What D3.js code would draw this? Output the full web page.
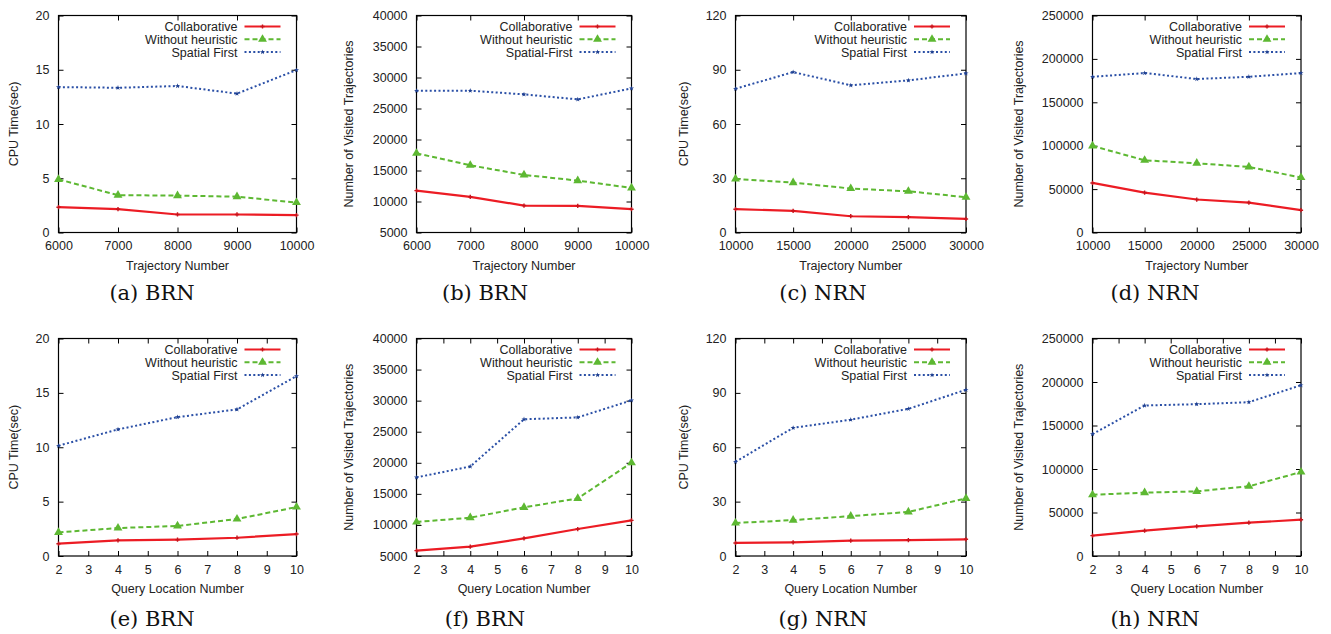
<!DOCTYPE html>
<html>
<head>
<meta charset="utf-8">
<script src="https://cdn.jsdelivr.net/npm/d3@7"></script>
<style>
  body { margin: 0; background: #fff; }
  text { font-family: "Liberation Sans", Arial, sans-serif; fill: #222; }
</style>
</head>
<body>
<div id="wrapper"></div>
<script>
// x values
const trajBRN = [6000, 7000, 8000, 9000, 10000];
const trajNRN = [10000, 15000, 20000, 25000, 30000];
const queryLoc = [2, 4, 6, 8, 10];

// series names
const seriesNames = ["Collaborative", "Without heuristic", "Spatial First"];
const seriesNamesB = ["Collaborative", "Without heuristic", "Spatial-First"];

// (a) BRN, CPU time vs trajectory number
const aCollab = [2.33, 2.15, 1.66, 1.66, 1.6];
const aWithout = [4.9, 3.44, 3.4, 3.3, 2.76];
const aSpatial = [13.4, 13.34, 13.5, 12.8, 14.97];
// (b) BRN, visited trajectories vs trajectory number
const bCollab = [11760, 10740, 9350, 9300, 8760];
const bWithout = [17780, 15840, 14290, 13370, 12190];
const bSpatial = [27870, 27870, 27280, 26470, 28240];
// (c) NRN, CPU time vs trajectory number
const cCollab = [12.9, 12.0, 9.0, 8.5, 7.5];
const cWithout = [29.6, 27.6, 24.3, 22.8, 19.5];
const cSpatial = [79.5, 88.7, 81.4, 84.1, 88.0];
// (d) NRN, visited trajectories vs trajectory number
const dCollab = [57100, 46000, 38000, 34500, 25700];
const dWithout = [99700, 83200, 79800, 75500, 63300];
const dSpatial = [179400, 183700, 176800, 179400, 183700];
// (e) BRN, CPU time vs query location number
const eCollab = [1.13, 1.44, 1.5, 1.68, 2.02];
const eWithout = [2.17, 2.57, 2.76, 3.4, 4.5];
const eSpatial = [10.14, 11.64, 12.77, 13.48, 16.54];
// (f) BRN, visited trajectories vs query location number
const fCollab = [5860, 6500, 7840, 9340, 10730];
const fWithout = [10470, 11160, 12820, 14270, 20000];
const fSpatial = [17650, 19400, 27000, 27300, 30050];
// (g) NRN, CPU time vs query location number
const gCollab = [7.2, 7.5, 8.5, 8.8, 9.2];
const gWithout = [18.2, 19.8, 22.0, 24.3, 31.8];
const gSpatial = [52.0, 70.7, 75.2, 81.2, 91.7];
// (h) NRN, visited trajectories vs query location number
const hCollab = [23400, 29100, 34100, 38300, 41700];
const hWithout = [70400, 72800, 74300, 80100, 96500];
const hSpatial = [140100, 173000, 174500, 176800, 196300];

// axis ticks
const cpuBRNTicks = [0, 5, 10, 15, 20];
const visBRNTicks = [5000, 10000, 15000, 20000, 25000, 30000, 35000, 40000];
const cpuNRNTicks = [0, 30, 60, 90, 120];
const visNRNTicks = [0, 50000, 100000, 150000, 200000, 250000];
const trajBRNTicks = [6000, 7000, 8000, 9000, 10000];
const trajNRNTicks = [10000, 15000, 20000, 25000, 30000];
const queryTicks = [2, 3, 4, 5, 6, 7, 8, 9, 10];

const cpuLabel = "CPU Time(sec)";
const visLabel = "Number of Visited Trajectories";
const trajLabel = "Trajectory Number";
const queryLabel = "Query Location Number";

const panels = [
  { cap: "(a) BRN", x: trajBRN, xt: trajBRNTicks, xl: trajLabel, yt: cpuBRNTicks, yl: cpuLabel, ys: [aCollab, aWithout, aSpatial], names: seriesNames },
  { cap: "(b) BRN", x: trajBRN, xt: trajBRNTicks, xl: trajLabel, yt: visBRNTicks, yl: visLabel, ys: [bCollab, bWithout, bSpatial], names: seriesNamesB },
  { cap: "(c) NRN", x: trajNRN, xt: trajNRNTicks, xl: trajLabel, yt: cpuNRNTicks, yl: cpuLabel, ys: [cCollab, cWithout, cSpatial], names: seriesNames },
  { cap: "(d) NRN", x: trajNRN, xt: trajNRNTicks, xl: trajLabel, yt: visNRNTicks, yl: visLabel, ys: [dCollab, dWithout, dSpatial], names: seriesNames },
  { cap: "(e) BRN", x: queryLoc, xt: queryTicks, xl: queryLabel, yt: cpuBRNTicks, yl: cpuLabel, ys: [eCollab, eWithout, eSpatial], names: seriesNames },
  { cap: "(f) BRN", x: queryLoc, xt: queryTicks, xl: queryLabel, yt: visBRNTicks, yl: visLabel, ys: [fCollab, fWithout, fSpatial], names: seriesNames },
  { cap: "(g) NRN", x: queryLoc, xt: queryTicks, xl: queryLabel, yt: cpuNRNTicks, yl: cpuLabel, ys: [gCollab, gWithout, gSpatial], names: seriesNames },
  { cap: "(h) NRN", x: queryLoc, xt: queryTicks, xl: queryLabel, yt: visNRNTicks, yl: visLabel, ys: [hCollab, hWithout, hSpatial], names: seriesNames },
];

// layout (pixels)
const cols = [
  { left: 58.5, right: 296.5, ylabX: 14, capX: 152 },
  { left: 416.5, right: 631.5, ylabX: 349, capX: 485 },
  { left: 735.5, right: 966, ylabX: 684, capX: 823 },
  { left: 1092.5, right: 1301, ylabX: 1019, capX: 1155 },
];
const rows = [
  { top: 15.5, bottom: 232.5, capY: 300 },
  { top: 338.5, bottom: 556, capY: 626 },
];

const styles = [
  { color: "#ec1c24", dash: null, marker: "dot" },
  { color: "#5db832", dash: "5,3", marker: "tri" },
  { color: "#2a4fa6", dash: "2,2.4", marker: "star" },
];

const svg = d3.select("#wrapper").append("svg")
  .attr("width", 1331)
  .attr("height", 634);

function drawMarker(g, type, color, x, y) {
  if (type === "tri") {
    g.append("path")
      .attr("d", d3.symbol().type(d3.symbolTriangle).size(34)())
      .attr("transform", `translate(${x},${y})`)
      .attr("fill", color);
  } else if (type === "dot") {
    g.append("path")
      .attr("d", d3.symbol().type(d3.symbolCross).size(10)())
      .attr("transform", `translate(${x},${y})`)
      .attr("fill", "#c8141c");
  } else {
    g.append("path")
      .attr("d", d3.symbol().type(d3.symbolStar).size(8)())
      .attr("transform", `translate(${x},${y})`)
      .attr("fill", "#1e3f90");
  }
}

panels.forEach((p, i) => {
  const col = cols[i % 4];
  const row = rows[Math.floor(i / 4)];
  const w = col.right - col.left;
  const h = row.bottom - row.top;

  const xScale = d3.scaleLinear()
    .domain(d3.extent(p.xt))
    .range([0, w]);
  const yScale = d3.scaleLinear()
    .domain(d3.extent(p.yt))
    .range([h, 0]);

  const bounds = svg.append("g")
    .attr("transform", `translate(${col.left},${row.top})`);

  // ticks inward on all four sides
  const tickLen = 5;
  const axisStyle = sel => {
    sel.select(".domain").remove();
    sel.selectAll(".tick line").attr("stroke", "#000").attr("stroke-width", 1);
  };
  const fmt = d3.format("d");

  bounds.append("g")
    .attr("transform", `translate(0,${h})`)
    .call(d3.axisBottom(xScale).tickValues(p.xt).tickSize(-tickLen).tickPadding(9).tickFormat(fmt))
    .call(axisStyle)
    .call(g => g.selectAll("text").attr("font-size", 12.5).attr("fill", "#222").attr("font-family", "Liberation Sans, Arial, sans-serif"));
  bounds.append("g")
    .call(d3.axisTop(xScale).tickValues(p.xt).tickSize(-tickLen).tickFormat(""))
    .call(axisStyle);
  bounds.append("g")
    .call(d3.axisLeft(yScale).tickValues(p.yt).tickSize(-tickLen).tickPadding(9).tickFormat(fmt))
    .call(axisStyle)
    .call(g => g.selectAll("text").attr("font-size", 12.5).attr("fill", "#222").attr("font-family", "Liberation Sans, Arial, sans-serif"));
  bounds.append("g")
    .attr("transform", `translate(${w},0)`)
    .call(d3.axisRight(yScale).tickValues(p.yt).tickSize(-tickLen).tickFormat(""))
    .call(axisStyle);

  // frame
  bounds.append("rect")
    .attr("width", w)
    .attr("height", h)
    .attr("fill", "none")
    .attr("stroke", "#000")
    .attr("stroke-width", 1.2);

  // series
  const line = d3.line()
    .x((d, j) => xScale(p.x[j]))
    .y(d => yScale(d));

  p.ys.forEach((vals, k) => {
    const st = styles[k];
    bounds.append("path")
      .attr("d", line(vals))
      .attr("fill", "none")
      .attr("stroke", st.color)
      .attr("stroke-width", k === 0 ? 2.2 : 2)
      .attr("stroke-dasharray", st.dash);
    vals.forEach((v, j) => drawMarker(bounds, st.marker, st.color, xScale(p.x[j]), yScale(v)));
  });

  // legend
  p.names.forEach((name, k) => {
    const st = styles[k];
    const ly = 11 + k * 12.8;
    bounds.append("text")
      .attr("x", w - 59)
      .attr("y", ly + 4.5)
      .attr("text-anchor", "end")
      .attr("font-size", 12.5)
      .text(name);
    bounds.append("line")
      .attr("x1", w - 52).attr("x2", w - 16)
      .attr("y1", ly).attr("y2", ly)
      .attr("stroke", st.color)
      .attr("stroke-width", k === 0 ? 2.2 : 2)
      .attr("stroke-dasharray", st.dash);
    drawMarker(bounds, st.marker, st.color, w - 34, ly);
  });

  // axis titles
  bounds.append("text")
    .attr("x", w / 2)
    .attr("y", h + 37)
    .attr("text-anchor", "middle")
    .attr("font-size", 12.5)
    .text(p.xl);

  svg.append("text")
    .attr("transform", `translate(${col.ylabX},${row.top + h / 2}) rotate(-90)`)
    .attr("text-anchor", "middle")
    .attr("dy", "0.35em")
    .attr("font-size", 12.5)
    .text(p.yl);

  // caption
  svg.append("text")
    .attr("x", col.capX)
    .attr("y", row.capY)
    .attr("text-anchor", "middle")
    .style("font-family", "'DejaVu Serif', 'Liberation Serif', serif")
    .attr("font-size", 21)
    .style("fill", "#111")
    .text(p.cap);
});
</script>
</body>
</html>
